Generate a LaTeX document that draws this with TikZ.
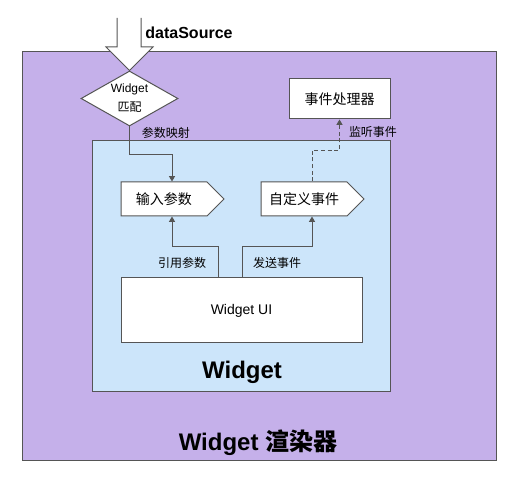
\documentclass[tikz,border=0pt]{standalone}
\usepackage{fontspec}
\setmainfont{Liberation Sans}
\newfontfamily\cjk{Noto Sans CJK SC}
\usetikzlibrary{arrows.meta,shapes.geometric,shapes.symbols}
\definecolor{linec}{HTML}{555555}
\definecolor{renderbg}{HTML}{C5B0EA}
\definecolor{widgetbg}{HTML}{CCE5FA}
\begin{document}
\begin{tikzpicture}[
  x=0.75pt, y=-0.75pt,
  frame/.style={draw=linec, line width=0.75pt, inner sep=0},
  box/.style={frame, fill=white, font=\cjk\fontsize{10.5}{12}\selectfont},
  tag/.style={box, signal, signal to=east, signal pointer angle=90,
    minimum width=77.25pt, minimum height=25.5pt},
  lbl/.style={inner sep=0, font=\cjk\fontsize{9}{10}\selectfont},
  title/.style={inner sep=0, font=\bfseries\fontsize{18}{20}\selectfont},
  link/.style={draw=linec, line width=0.75pt, -{Triangle[length=4pt,width=4.5pt]}}
]
\useasboundingbox (0,0) rectangle (519,492);

% containers
\node[frame, fill=renderbg, minimum width=355.5pt, minimum height=306.75pt] (render) at (259,256.5) {};
\node[frame, fill=widgetbg, minimum width=223.5pt, minimum height=188.25pt] (widget) at (241,266.5) {};
\node[title] (rendertitle) at (258,443) {Widget {\cjk 渲染器}};
\node[title] (widgettitle) at (242,372) {Widget};

% boxes
\node[box, minimum width=180.75pt, minimum height=48.75pt, font=\fontsize{10.5}{12}\selectfont] (ui) at (241.5,310.5) {Widget UI};
\node[tag] (input) at (164,199) {输入参数};
\node[tag] (event) at (304,199) {自定义事件};
\node[box, minimum width=75.75pt, minimum height=30pt] (handler) at (339.5,99) {事件处理器};
\node[box, diamond, aspect=1.76, minimum width=72.75pt, minimum height=41.25pt,
  align=center, font=\fontsize{9}{14.25}\selectfont] (match) at (129.5,98.5) {Widget\\{\cjk 匹配}};

% data source arrow
\fill[white] (117,18) -- (117,47) -- (106,47) -- (match.north) -- (153,47) -- (141,47) -- (141,18) -- cycle;
\draw[linec, line width=0.75pt] (117,18) -- (117,47) -- (106,47) -- (match.north) -- (153,47) -- (141,47) -- (141,18);
\node[inner sep=0, font=\bfseries\fontsize{12}{14}\selectfont] (source) at (189,33) {dataSource};

% connectors (tags are offset by half their point)
\draw[link] (match.south) -- ++(0,28) -| ([xshift=6pt]input.north);
\draw[link] ([xshift=-17.6pt]ui.north) -- ++(0,-31) -| ([xshift=6pt]input.south);
\draw[link] ([xshift=0.4pt]ui.north) -- ++(0,-31) -| ([xshift=6pt]event.south);
\draw[link, dash pattern=on 3pt off 2pt] ([xshift=6pt]event.north) -- ++(0,-31) -| (handler.south);

% labels
\node[lbl] (maplbl) at (166,133) {参数映射};
\node[lbl] (listenlbl) at (373,132) {监听事件};
\node[lbl] (reflbl) at (182,263) {引用参数};
\node[lbl] (sendlbl) at (277,263) {发送事件};

\end{tikzpicture}
\end{document}
